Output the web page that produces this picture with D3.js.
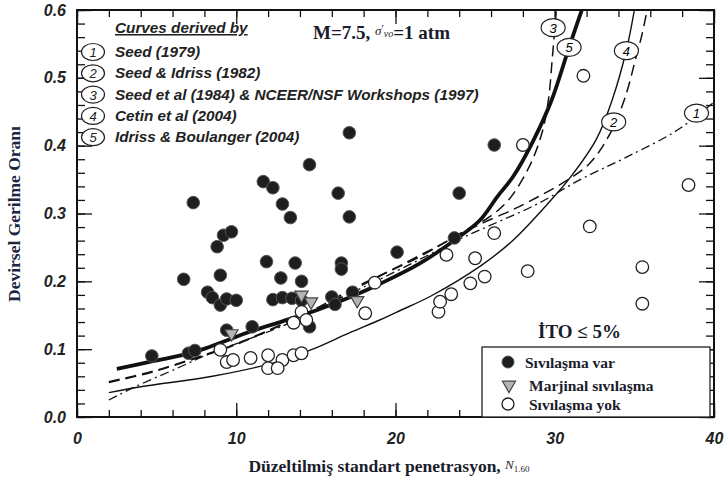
<!DOCTYPE html>
<html>
<head>
<meta charset="utf-8">
<script src="https://cdn.jsdelivr.net/npm/d3@7"></script>
<style>
  body { margin: 0; background: #fff; }
  svg { display: block; }
</style>
</head>
<body>
<div id="chart"></div>
<script>
// Curves: [N1,60, CSR]
const seed1979 = [[2,0.025],[3.6,0.044],[6.3,0.072],[8,0.09],[10.9,0.116],[12.9,0.134],[15,0.158],[18.4,0.196],[21.5,0.232],[24,0.262],[25.9,0.282],[28.9,0.314],[31.6,0.35],[34.5,0.383],[37.7,0.423],[40.3,0.47]];
const seedIdriss1982 = [[2,0.051],[4.7,0.066],[7.4,0.086],[9.9,0.106],[12.9,0.136],[15,0.158],[17.8,0.193],[21.5,0.238],[23.5,0.262],[25.3,0.284],[27.4,0.306],[28.9,0.324],[30.5,0.345],[32.2,0.374],[33.5,0.419],[34.4,0.47],[35.1,0.53],[35.5,0.566],[35.8,0.6]];
const seed1984 = [[2,0.052],[4.7,0.067],[7.4,0.087],[9.9,0.107],[12.9,0.137],[15,0.16],[17.8,0.195],[21.5,0.236],[24,0.27],[25.9,0.295],[27.1,0.32],[28.4,0.369],[29.2,0.419],[29.6,0.467],[29.85,0.53],[30.1,0.6]];
const cetin2004 = [[2,0.036],[4.4,0.046],[8.5,0.06],[12.7,0.082],[14.8,0.1],[17.1,0.124],[19,0.143],[20.3,0.157],[22.2,0.178],[25.3,0.222],[27.4,0.261],[29.7,0.318],[31,0.354],[32.6,0.409],[33.6,0.467],[34.5,0.541],[35,0.6]];
const idrissBoulanger2004 = [[2.5,0.071],[4.7,0.082],[7.4,0.096],[10.9,0.126],[12.9,0.141],[15,0.157],[17.1,0.176],[19,0.196],[21.5,0.226],[23.9,0.264],[25.3,0.29],[26.4,0.325],[27.4,0.355],[28.6,0.405],[29.8,0.467],[30.9,0.545],[31.7,0.6]];

const curveNames = ["Seed (1979)", "Seed & Idriss (1982)", "Seed et al (1984) & NCEER/NSF Workshops (1997)", "Cetin et al (2004)", "Idriss & Boulanger (2004)"];
// where each numbered tag sits on its curve
const curveTags = [[38.9,0.448],[33.7,0.435],[29.9,0.574],[34.5,0.54],[30.9,0.545]];

// Field cases
const liquefied = [[4.7,0.09],[7.0,0.094],[7.4,0.098],[6.7,0.203],[7.3,0.316],[9.0,0.209],[8.8,0.251],[9.2,0.268],[9.7,0.273],[8.2,0.184],[8.5,0.176],[9.0,0.165],[9.4,0.174],[10.0,0.172],[9.4,0.128],[11.0,0.133],[11.9,0.229],[11.7,0.347],[12.3,0.338],[12.9,0.314],[13.4,0.294],[12.8,0.205],[12.3,0.173],[12.9,0.176],[13.5,0.175],[14.1,0.172],[13.7,0.227],[14.1,0.2],[14.6,0.372],[14.6,0.133],[16.0,0.177],[16.2,0.166],[16.4,0.33],[16.6,0.227],[16.6,0.218],[17.1,0.419],[17.1,0.295],[17.3,0.184],[20.1,0.243],[23.7,0.264],[24.0,0.33],[26.2,0.401]];
const marginal = [[9.7,0.123],[14.1,0.18],[14.7,0.17],[17.6,0.172]];
const nonLiquefied = [[9.0,0.099],[9.4,0.081],[9.8,0.084],[10.9,0.087],[12.0,0.091],[12.9,0.084],[12.0,0.072],[12.6,0.072],[13.6,0.091],[14.1,0.094],[13.6,0.139],[14.1,0.155],[14.4,0.143],[18.1,0.153],[18.7,0.198],[22.7,0.155],[22.8,0.17],[23.5,0.181],[24.7,0.197],[25.6,0.207],[23.2,0.239],[25.0,0.234],[26.2,0.271],[28.3,0.215],[28.0,0.401],[31.8,0.503],[32.2,0.281],[35.5,0.221],[35.5,0.167],[38.4,0.342]];

const xMajor = [0, 10, 20, 30, 40];
const yMajor = [0, 0.1, 0.2, 0.3, 0.4, 0.5, 0.6];

const W = 726, H = 482;
const svg = d3.select("#chart").append("svg")
  .attr("width", W).attr("height", H)
  .style("font-family", "'Liberation Sans', Arial, sans-serif");

const x = d3.scaleLinear().domain([0, 40]).range([77, 714]);
const y = d3.scaleLinear().domain([0, 0.6]).range([417, 10]);

svg.append("defs").append("clipPath").attr("id", "plotClip")
  .append("rect")
  .attr("x", x(0)).attr("y", y(0.6))
  .attr("width", x(40) - x(0)).attr("height", y(0) - y(0.6));

// --- axes: ticks point inward on all four sides
function styleAxis(g) {
  g.select(".domain").remove();
  g.selectAll(".tick line").attr("stroke", "#111").attr("stroke-width", 1.3);
  g.selectAll(".tick text")
    .attr("fill", "#222")
    .style("font-size", "16px")
    .style("font-weight", "bold")
    .style("font-style", "italic");
}
const xMinor = d3.range(0, 41, 2);
const yMinor = d3.range(0, 0.601, 0.02);

svg.append("g").attr("transform", `translate(0,${y(0)})`)
  .call(d3.axisBottom(x).tickValues(xMinor).tickSize(-7).tickFormat(""))
  .call(styleAxis);
svg.append("g").attr("transform", `translate(0,${y(0)})`)
  .call(d3.axisBottom(x).tickValues(xMajor).tickSize(-14).tickPadding(16).tickFormat(d3.format("d")))
  .call(styleAxis);
svg.append("g").attr("transform", `translate(0,${y(0.6)})`)
  .call(d3.axisTop(x).tickValues(xMinor).tickSize(-7).tickFormat(""))
  .call(styleAxis);
svg.append("g").attr("transform", `translate(0,${y(0.6)})`)
  .call(d3.axisTop(x).tickValues(xMajor).tickSize(-14).tickFormat(""))
  .call(styleAxis);

svg.append("g").attr("transform", `translate(${x(0)},0)`)
  .call(d3.axisLeft(y).tickValues(yMinor).tickSize(-8).tickFormat(""))
  .call(styleAxis);
svg.append("g").attr("transform", `translate(${x(0)},0)`)
  .call(d3.axisLeft(y).tickValues(yMajor).tickSize(-15).tickPadding(11).tickFormat(d3.format(".1f")))
  .call(styleAxis);
svg.append("g").attr("transform", `translate(${x(40)},0)`)
  .call(d3.axisRight(y).tickValues(yMinor).tickSize(-8).tickFormat(""))
  .call(styleAxis);
svg.append("g").attr("transform", `translate(${x(40)},0)`)
  .call(d3.axisRight(y).tickValues(yMajor).tickSize(-15).tickFormat(""))
  .call(styleAxis);

svg.append("rect")
  .attr("x", x(0)).attr("y", y(0.6))
  .attr("width", x(40) - x(0)).attr("height", y(0) - y(0.6))
  .attr("fill", "none").attr("stroke", "#111").attr("stroke-width", 2);

// --- curves
const line = d3.line()
  .x(d => x(d[0])).y(d => y(d[1]))
  .curve(d3.curveCatmullRom.alpha(0.5));

const curves = [
  { data: seed1979, width: 1.3, dash: "9,4,2,4" },
  { data: seedIdriss1982, width: 1.5, dash: "11,6" },
  { data: seed1984, width: 1.5, dash: "11,6" },
  { data: cetin2004, width: 1.4, dash: null },
  { data: idrissBoulanger2004, width: 3.8, dash: null }
];

const curveLayer = svg.append("g").attr("clip-path", "url(#plotClip)");
curveLayer.selectAll("path")
  .data(curves)
  .join("path")
  .attr("d", d => line(d.data))
  .attr("fill", "none")
  .attr("stroke", "#111")
  .attr("stroke-width", d => d.width)
  .attr("stroke-dasharray", d => d.dash);

// --- field cases
const pts = svg.append("g");
pts.selectAll(".liq")
  .data(liquefied)
  .join("circle")
  .attr("class", "liq")
  .attr("cx", d => x(d[0])).attr("cy", d => y(d[1]))
  .attr("r", 6.3)
  .attr("fill", "#1e1e1e").attr("stroke", "#555").attr("stroke-width", 1);

pts.selectAll(".non")
  .data(nonLiquefied)
  .join("circle")
  .attr("class", "non")
  .attr("cx", d => x(d[0])).attr("cy", d => y(d[1]))
  .attr("r", 6.3)
  .attr("fill", "#fff").attr("stroke", "#222").attr("stroke-width", 1.3);

const tri = d3.symbol().type(d3.symbolTriangle).size(75);
pts.selectAll(".marg")
  .data(marginal)
  .join("path")
  .attr("class", "marg")
  .attr("d", tri)
  .attr("transform", d => `translate(${x(d[0])},${y(d[1])}) rotate(180)`)
  .attr("fill", "#b4b4b4").attr("stroke", "#444").attr("stroke-width", 1.2);

// numbered tags on curves
const tags = svg.append("g").selectAll("g")
  .data(curveTags)
  .join("g")
  .attr("transform", d => `translate(${x(d[0])},${y(d[1])})`);
tags.append("ellipse").attr("rx", 12).attr("ry", 9)
  .attr("fill", "#fff").attr("stroke", "#222").attr("stroke-width", 1.2);
tags.append("text")
  .attr("text-anchor", "middle").attr("dy", 5)
  .style("font-size", "13px").style("font-style", "italic")
  .text((d, i) => i + 1);

// --- curve legend (top left)
const leg = svg.append("g").attr("fill", "#222")
  .style("font-weight", "bold").style("font-style", "italic");
leg.append("text")
  .attr("x", 115).attr("y", 33)
  .style("font-size", "15.3px")
  .attr("text-decoration", "underline")
  .text("Curves derived by");
const legRows = leg.selectAll(".row")
  .data(curveNames)
  .join("g")
  .attr("class", "row")
  .attr("transform", (d, i) => `translate(0,${52 + i * 21.3})`);
legRows.append("ellipse")
  .attr("cx", 93).attr("rx", 11.5).attr("ry", 8.5)
  .attr("fill", "#fff").attr("stroke", "#222").attr("stroke-width", 1.2);
legRows.append("text")
  .attr("x", 93).attr("dy", 5).attr("text-anchor", "middle")
  .style("font-size", "13px").style("font-weight", "normal")
  .text((d, i) => i + 1);
legRows.append("text")
  .attr("x", 115).attr("dy", 5)
  .style("font-size", "15.3px")
  .text(d => d);

// --- annotations
const serif = "'Liberation Serif', 'DejaVu Serif', serif";
const ink = "#1a1c2c";

const mTxt = svg.append("text")
  .attr("x", 313).attr("y", 39)
  .attr("fill", ink)
  .style("font-family", serif).style("font-weight", "bold").style("font-size", "19px");
mTxt.append("tspan").text("M=7.5, ");
mTxt.append("tspan").attr("dy", -4).style("font-size", "13px")
  .style("font-style", "italic").style("font-weight", "normal").text("σ");
mTxt.append("tspan").attr("dy", -3).style("font-size", "11px").style("font-weight", "normal").text("′");
mTxt.append("tspan").attr("dy", 5).style("font-size", "10px")
  .style("font-style", "italic").style("font-weight", "normal").text("vo");
mTxt.append("tspan").attr("dy", 2).text("=1 atm");

svg.append("text")
  .attr("x", 538).attr("y", 338)
  .attr("fill", ink)
  .style("font-family", serif).style("font-weight", "bold").style("font-size", "19px")
  .text("İTO ≤ 5%");

// --- case legend box (bottom right)
const box = svg.append("g");
box.append("rect")
  .attr("x", 482).attr("y", 347).attr("width", 228).attr("height", 70)
  .attr("fill", "#fff").attr("stroke", "#222").attr("stroke-width", 1.3);
box.append("circle").attr("cx", 508).attr("cy", 362).attr("r", 6)
  .attr("fill", "#1e1e1e").attr("stroke", "#555");
box.append("path").attr("d", tri)
  .attr("transform", "translate(509,385) rotate(180)")
  .attr("fill", "#b4b4b4").attr("stroke", "#444").attr("stroke-width", 1.2);
box.append("circle").attr("cx", 508).attr("cy", 404).attr("r", 6)
  .attr("fill", "#fff").attr("stroke", "#222").attr("stroke-width", 1.3);
const boxLabels = ["Sıvılaşma var", "Marjinal sıvılaşma", "Sıvılaşma yok"];
box.selectAll(".lab")
  .data(boxLabels)
  .join("text")
  .attr("class", "lab")
  .attr("x", (d, i) => i === 0 ? 525 : 529)
  .attr("y", (d, i) => [368, 391, 410][i])
  .attr("fill", ink)
  .style("font-family", serif).style("font-weight", "bold").style("font-size", "15.5px")
  .text(d => d);

// --- axis titles
const xt = svg.append("text")
  .attr("x", 389).attr("y", 472).attr("text-anchor", "middle")
  .attr("fill", ink)
  .style("font-family", serif).style("font-weight", "bold").style("font-size", "17.5px");
xt.append("tspan").text("Düzeltilmiş standart penetrasyon, ");
xt.append("tspan").attr("dy", -3).style("font-size", "13px")
  .style("font-style", "italic").style("font-weight", "normal").text("N");
xt.append("tspan").attr("dy", 3).style("font-size", "9px")
  .style("font-weight", "normal").text("1.60");

svg.append("text")
  .attr("transform", "translate(20,214) rotate(-90)")
  .attr("text-anchor", "middle")
  .attr("fill", "#1c2541")
  .style("font-family", serif).style("font-weight", "bold").style("font-size", "17.5px")
  .text("Devirsel Gerilme Oranı");
</script>
</body>
</html>
